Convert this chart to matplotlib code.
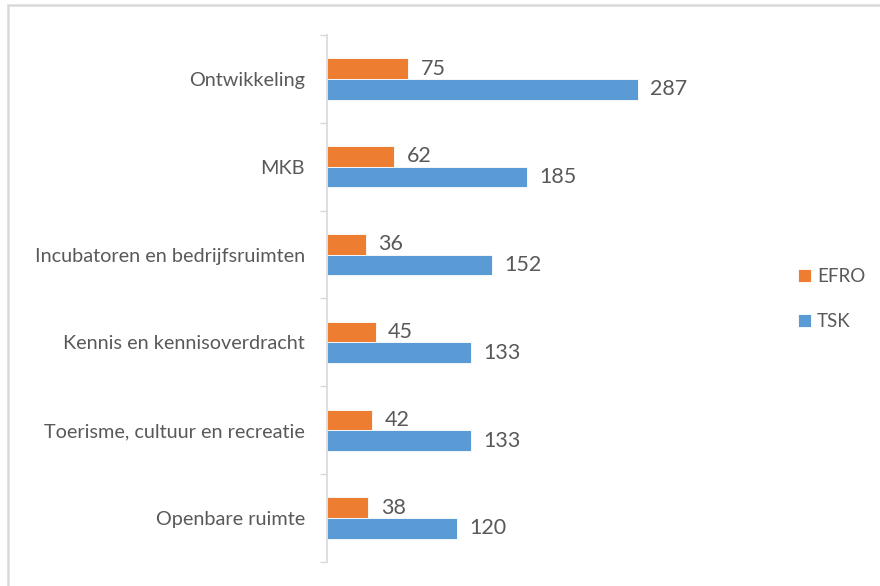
import numpy as np
import matplotlib
matplotlib.use("Agg")
from matplotlib import pyplot as plt
from matplotlib.patches import Rectangle

categories = [
    "Ontwikkeling",
    "MKB",
    "Incubatoren en bedrijfsruimten",
    "Kennis en kennisoverdracht",
    "Toerisme, cultuur en recreatie",
    "Openbare ruimte",
]
efro = [75, 62, 36, 45, 42, 38]
tsk = [287, 185, 152, 133, 133, 120]

plt.rcParams["font.family"] = ["Lato", "DejaVu Sans"]
text_color = "#595959"
orange = "#ED7D31"
blue = "#5B9BD5"

fig = plt.figure(figsize=(8.8, 5.86), dpi=100)
ax = fig.add_axes([327 / 880, 1 - 562 / 586, (760 - 327) / 880, (562 - 35) / 586])

# light frame of the chart area
fig.patches.append(Rectangle((8 / 880, -0.1), 1.2, 1 - 5 / 586 + 0.1, transform=fig.transFigure,
                             fill=False, edgecolor="#d9d9d9", linewidth=1.8))

y = np.arange(len(categories))
h = 0.235
bars_e = ax.barh(y - h / 2, efro, height=h, color=orange, edgecolor="white", linewidth=0.6, label="EFRO")
bars_t = ax.barh(y + h / 2, tsk, height=h, color=blue, edgecolor="white", linewidth=0.6, label="TSK")

for bars, vals in [(bars_e, efro), (bars_t, tsk)]:
    for bar, v in zip(bars, vals):
        ax.annotate(
            f"{v}",
            (bar.get_width(), bar.get_y() + bar.get_height() / 2),
            xytext=(9, 0),
            textcoords="offset points",
            ha="left",
            va="center",
            fontsize=15.5,
            color=text_color,
        )

ax.set_xlim(0, 400)
ax.set_ylim(len(categories) - 0.5, -0.5)
ax.set_yticks(y)
ax.set_yticklabels(categories, fontsize=14.3, color=text_color)
ax.set_yticks(np.arange(-0.5, len(categories)), minor=True)
ax.tick_params(axis="y", which="major", length=0, pad=16)
ax.tick_params(axis="y", which="minor", length=5, color="#d9d9d9", width=1)
ax.set_xticks([])
for side in ["top", "right", "bottom"]:
    ax.spines[side].set_visible(False)
ax.spines["left"].set_color("#d9d9d9")
ax.spines["left"].set_linewidth(1.2)

fig.legend(
    handles=[bars_e, bars_t],
    labels=["EFRO", "TSK"],
    loc="center left",
    bbox_to_anchor=(798 / 880, 1 - 299 / 586),
    borderaxespad=0,
    borderpad=0,
    frameon=False,
    fontsize=13.5,
    labelcolor=text_color,
    handlelength=0.7,
    handleheight=0.7,
    handletextpad=0.3,
    labelspacing=1.5,
)

fig.savefig("out.png", dpi=100)
